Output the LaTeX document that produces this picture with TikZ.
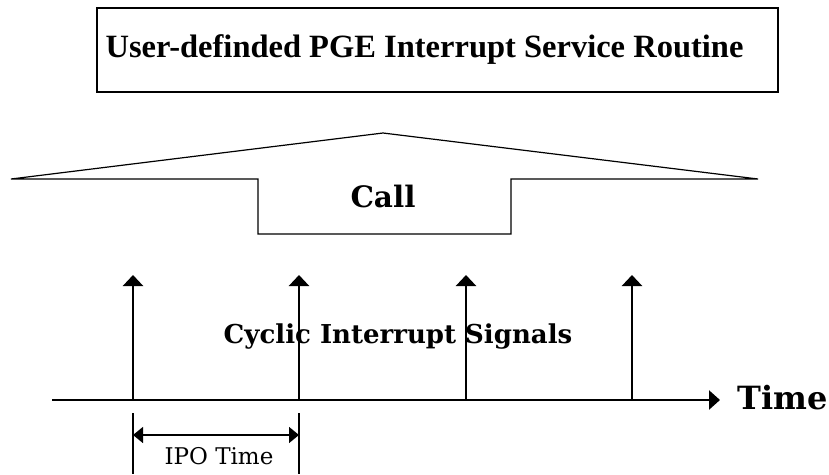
\documentclass[tikz,border=0pt]{standalone}
\usepackage{fontspec}
\setmainfont{Liberation Serif}
\newfontfamily\dvserif{DejaVu Serif}
\usetikzlibrary{arrows.meta}
\tikzset{
  signal/.style={-{Triangle[width=20pt,length=11pt]}, line width=2.4pt},
  dimline/.style={{Triangle[width=16pt,length=10pt]}-{Triangle[width=16pt,length=10pt]}, line width=1.4pt},
}
\begin{document}
\begin{tikzpicture}[x=1pt,y=-1pt,line join=miter]
\useasboundingbox (0,0) rectangle (829,474);
% service routine box
\node[draw,line width=1.5pt,minimum width=681pt,minimum height=84pt,inner sep=0pt,
  font=\bfseries\fontsize{32.5}{34}\selectfont] (isr) at (437.5,50) {User-definded PGE Interrupt Service Routine\hspace*{26pt}};
% call shape
\coordinate (hl) at (11,179);
\coordinate (peak) at (383,133);
\coordinate (hr) at (758,179);
\draw[line width=1.2pt] (hl) -- (peak) -- (hr) -- (511,179) -- (511,234) -- (258,234) -- (258,179) -- cycle;
\node[font=\dvserif\bfseries\fontsize{29.5}{31}\selectfont] (call) at (383,196) {Call};
% time axis
\coordinate (t0) at (52,400);
\coordinate (t1) at (720,400);
\draw[-{Triangle[width=19pt,length=11pt]},line width=2.4pt] (t0) -- (t1);
\node[anchor=west,inner sep=0pt,font=\dvserif\bfseries\fontsize{32}{34}\selectfont] (time) at (737,398) {Time};
% interrupt signals
\foreach \x [count=\i] in {133,299,466,632}{
  \coordinate (s\i) at (\x,400);
  \coordinate (p\i) at (\x,275);
  \draw[signal] (s\i) -- (p\i);
}
\node[font=\dvserif\bfseries\fontsize{26}{28}\selectfont] (cyc) at (398,337) {Cyclic Interrupt Signals};
% IPO time
\coordinate (k1) at (133,413);
\coordinate (k2) at (299,413);
\coordinate (k1b) at (133,474);
\coordinate (k2b) at (299,474);
\draw[line width=1.2pt] (k1) -- (k1b) (k2) -- (k2b);
\draw[dimline] (133,435) coordinate (d1) -- (299,435) coordinate (d2);
\node[font=\dvserif\fontsize{23}{25}\selectfont] (ipo) at (219,456) {IPO Time};
\end{tikzpicture}
\end{document}
